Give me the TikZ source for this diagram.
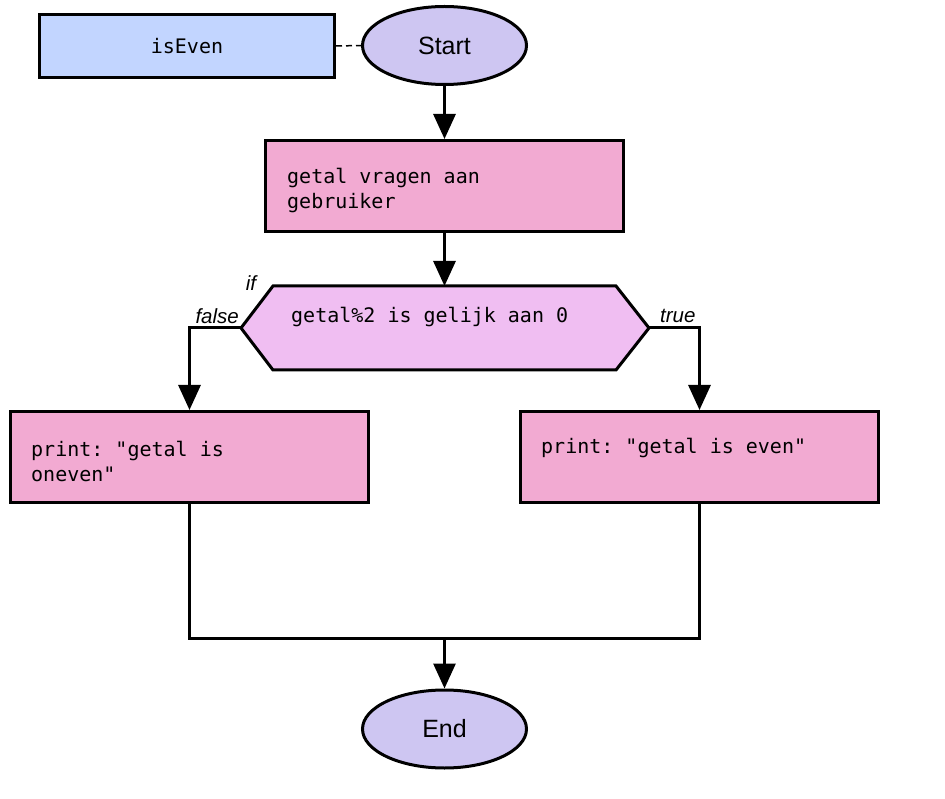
\documentclass[tikz,border=0pt]{standalone}
\usepackage{fontspec}
\setmainfont{Liberation Sans}
\setmonofont{DejaVu Sans Mono}
\usetikzlibrary{arrows.meta,shapes.geometric}
\definecolor{namefill}{HTML}{C2D5FF}
\definecolor{termfill}{HTML}{CEC6F2}
\definecolor{procfill}{HTML}{F2AAD2}
\definecolor{decfill}{HTML}{F0BEF2}
\begin{document}
\begin{tikzpicture}[x=1pt,y=-1pt,
  box/.style={draw, line width=3pt, inner sep=0pt},
  proc/.style={box, fill=procfill, minimum width=358pt, minimum height=91pt},
  term/.style={ellipse, draw, line width=3pt, fill=termfill, minimum width=164pt, minimum height=78pt, inner sep=0pt, font=\fontsize{25}{30}\selectfont},
  code/.style={font=\ttfamily\fontsize{20}{25}\selectfont, inner sep=0pt, align=left},
  lbl/.style={font=\itshape\fontsize{20.5}{24}\selectfont, inner sep=0pt},
  flow/.style={line width=3pt, -{Triangle[width=22pt,length=25pt]}},
  conn/.style={line width=3pt},
]
\useasboundingbox (0,0) rectangle (945,799);
\fill[white] (0,0) rectangle (945,799);
\node[box, fill=namefill, minimum width=295pt, minimum height=63pt, font=\ttfamily\fontsize{20}{25}\selectfont] (name) at (187,46) {isEven};
\node[term] (start) at (444.5,45.5) {Start};
\node[proc] (b1) at (444.5,186) {};
\node[code, anchor=west] (t1) at (287,190.5) {getal vragen aan\\gebruiker};
\coordinate (hl) at (241,328);
\coordinate (hr) at (649,328);
\coordinate (htop) at (444.5,286);
\draw[line width=3pt, fill=decfill, line join=miter] (hl) -- (273,286) -- (616,286) -- (hr) -- (616,370) -- (273,370) -- cycle;
\node[code, anchor=west] (dtxt) at (291,317) {getal\%2 is gelijk aan 0};
\node[lbl] (iflbl) at (251,283) {if};
\node[lbl, anchor=east] (falselbl) at (239,316) {false};
\node[lbl, anchor=west] (truelbl) at (660,316) {true};
\node[proc] (bl) at (189.5,457) {};
\node[code, anchor=west] (tl) at (31,461) {print: "getal is\\oneven"};
\node[proc] (br) at (699.5,457) {};
\node[code, anchor=west] (tr) at (541,448) {print: "getal is even"};
\coordinate (merge) at (444.5,638);
\node[term] (end) at (444.5,729) {End};
\draw[line width=1.5pt, dash pattern=on 6pt off 4pt] (name.east) -- (start.west);
\draw[flow] (start) -- (b1);
\draw[flow] (b1) -- (htop);
\draw[flow] (hl) -| (bl.north);
\draw[flow] (hr) -| (br.north);
\draw[conn] (bl.south) |- (merge) -| (br.south);
\draw[flow] (merge) -- (end);
\end{tikzpicture}
\end{document}
